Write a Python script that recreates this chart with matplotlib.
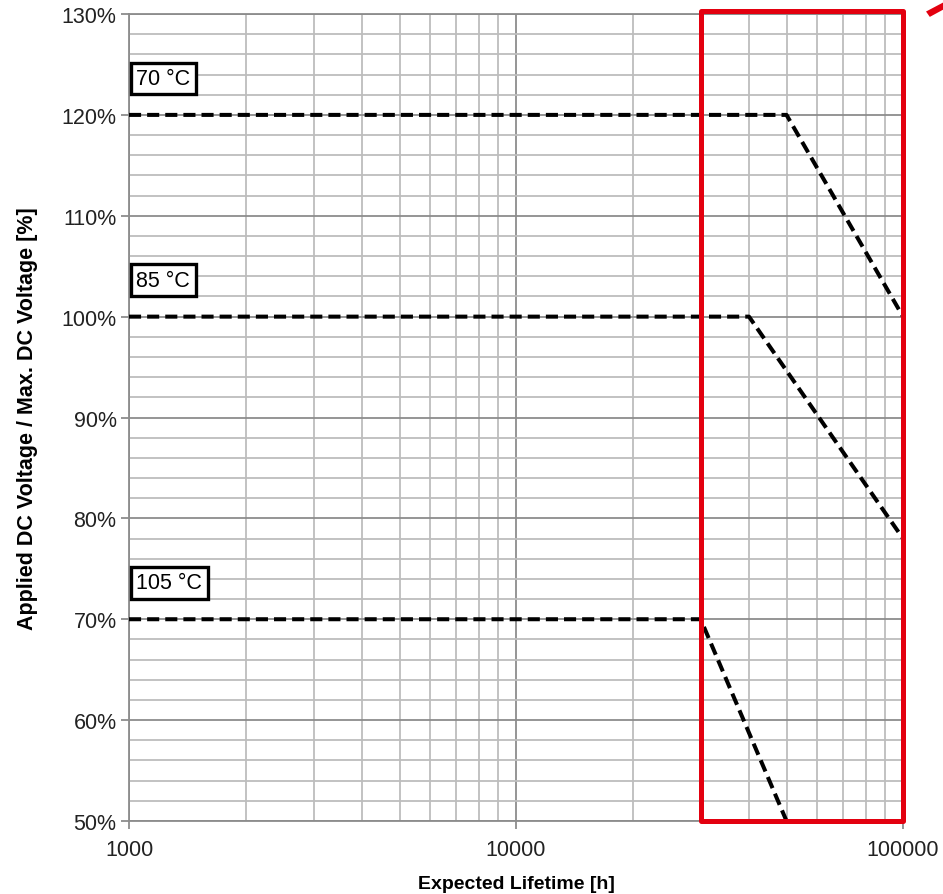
import matplotlib
matplotlib.use('Agg')
import matplotlib.pyplot as plt
from matplotlib.ticker import FixedLocator, NullFormatter, FuncFormatter
from matplotlib.patches import Rectangle, Polygon

plt.rcParams['font.family'] = ['Liberation Sans', 'DejaVu Sans']

# derating curves: lifetime [h] vs applied / max DC voltage [%]
temps = ['70 °C', '85 °C', '105 °C']
life_70 = [1000, 50000, 100000]
volt_70 = [120, 120, 100]
life_85 = [1000, 40000, 100000]
volt_85 = [100, 100, 78]
life_105 = [1000, 30000, 50000]
volt_105 = [70, 70, 50]

# highlighted lifetime range
hl_lo, hl_hi = 30000, 100000

fig = plt.figure(figsize=(9.43, 8.95), dpi=100)
ax = fig.add_axes([0.1368, 0.0816, 0.8208, 0.9016])

ax.set_xscale('log')
ax.set_xlim(1000, 100000)
ax.set_ylim(50, 130)

ax.xaxis.set_major_locator(FixedLocator([1000, 10000, 100000]))
ax.xaxis.set_minor_locator(FixedLocator([m * d for d in (1000, 10000) for m in range(2, 10)]))
ax.xaxis.set_major_formatter(FuncFormatter(lambda v, p: '%d' % v))
ax.xaxis.set_minor_formatter(NullFormatter())
ax.yaxis.set_major_locator(FixedLocator(range(50, 131, 10)))
ax.yaxis.set_minor_locator(FixedLocator(range(50, 131, 2)))
ax.yaxis.set_major_formatter(FuncFormatter(lambda v, p: '%d%%' % v))

ax.grid(which='minor', color='#bdbdbd', lw=1.3)
ax.grid(which='major', color='#8c8c8c', lw=1.3)
ax.set_axisbelow(True)
for s in ax.spines.values():
    s.set_color('#8c8c8c')
    s.set_linewidth(1.3)
ax.tick_params(which='major', direction='out', length=6, color='#8c8c8c', width=1.3,
               labelsize=15.5, labelcolor='#222222', pad=3)
ax.tick_params(which='minor', length=0)
ax.tick_params(axis='x', pad=7)

ax.set_xlabel('Expected Lifetime [h]', fontsize=14, fontweight='bold', labelpad=11)
ax.set_ylabel('Applied DC Voltage / Max. DC Voltage [%]', fontsize=15.5, fontweight='bold', labelpad=17)

curves = [(life_70, volt_70), (life_85, volt_85), (life_105, volt_105)]
for (xs, ys), name in zip(curves, temps):
    ax.plot(xs, ys, color='black', lw=2.9, linestyle=(0, (3.0, 1.5)), clip_on=False, zorder=3)
    ax.text(1045, ys[0] + 3.6, name, fontsize=15.5, ha='left', va='center', zorder=5,
            bbox=dict(boxstyle='square,pad=0.25', fc='white', ec='black', lw=2.4))

# red frame around the long-life region
ax.add_patch(Rectangle((hl_lo, 50), hl_hi - hl_lo, 80.3, fill=False, ec='#e3000f',
                       lw=3.6, clip_on=False, zorder=6, joinstyle='round'))

# arrow tip pointing at the frame
fig.patches.append(Polygon([[0.986, 0.98], [1.0, 0.988], [1.0, 0.996], [0.982, 0.986]],
                           closed=True, transform=fig.transFigure, fc='#e3000f', ec='none'))

fig.savefig('out.png', dpi=100)
